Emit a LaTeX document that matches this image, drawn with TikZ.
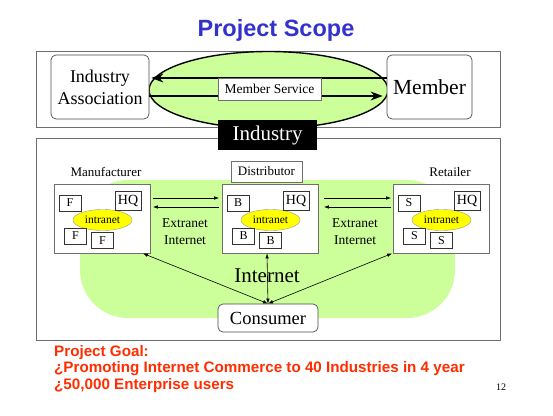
\documentclass[tikz,border=0pt]{standalone}
\usepackage{fontspec}
\setmainfont{Liberation Serif}
\newfontfamily\arialfont{Liberation Sans}
\usetikzlibrary{arrows.meta,shapes.geometric}

\definecolor{blobgreen}{RGB}{204,255,153}
\definecolor{netyellow}{RGB}{255,255,0}
\definecolor{titleblue}{RGB}{51,51,204}
\definecolor{goalred}{RGB}{255,45,0}
\definecolor{framegray}{RGB}{110,110,110}

\newcommand{\fs}[1]{\fontsize{#1}{1.2\dimexpr#1pt\relax}\selectfont}

\tikzset{
  frame/.style={draw=framegray,line width=0.8pt},
  roundbox/.style={draw=black!70,fill=white,rounded corners=5pt,line width=0.7pt},
  firmbox/.style={draw=framegray,fill=white,line width=0.8pt,minimum width=96pt,minimum height=69pt},
  unitbox/.style={draw=black!80,fill=white,line width=0.6pt,inner sep=0pt,
    minimum width=22pt,minimum height=16pt,font=\fs{12}},
  intranet/.style={ellipse,draw=black!40,fill=netyellow,line width=0.4pt,inner sep=0pt,
    minimum width=59pt,minimum height=21pt,font=\fs{11.5}},
  tag/.style={font=\fs{13},inner sep=0pt},
  bigarrow/.style={line width=1.6pt,-{Stealth[length=12pt,width=9pt]}},
  linkarrow/.style={line width=0.6pt,-{Latex[length=5pt,width=3.5pt]}},
  netarrow/.style={line width=0.6pt,{Latex[length=5pt,width=3.5pt]}-{Latex[length=5pt,width=3.5pt]}},
}

% one firm: box, intranet and its units
\newcommand{\firm}[3]{%
  \node[firmbox] (#1) at (#2,218.5) {};
  \node[intranet] (#1-net) at (#2,220) {intranet};
  \node[unitbox] (#1-a) at (#2-32.5,203) {#3};
  \node[unitbox,minimum width=26pt,minimum height=19pt,font=\fs{14}] (#1-hq) at (#2+25.5,200.5) {HQ};
  \node[unitbox] (#1-b) at (#2-27,236) {#3};
  \node[unitbox] (#1-c) at (#2,240.5) {#3};
}

\begin{document}
\begin{tikzpicture}[x=1pt,y=-1pt]
\useasboundingbox (0,0) rectangle (553,415);

\node[font=\arialfont\bfseries\fs{23.5},text=titleblue] (title) at (276,30) {Project Scope};

% upper part
\draw[frame] (36,51) rectangle (500,127);
\draw[frame] (36,138) rectangle (500,340);
\draw[black,line width=1.4pt,fill=blobgreen] (268.5,90) ellipse [x radius=119.5,y radius=38.5];
\node[roundbox,minimum width=98pt,minimum height=64pt,align=center,font=\fontsize{18}{22}\selectfont] (assoc) at (100,87)
  {Industry\\Association};
\node[roundbox,minimum width=85pt,minimum height=64pt,font=\fs{21.5}] (member) at (429.5,87) {Member};
\draw[bigarrow,shorten >=2pt] ([yshift=9pt]member.west) -- ([yshift=9pt]assoc.east);
\draw[bigarrow,shorten >=4pt] ([yshift=-9pt]assoc.east) -- ([yshift=-9pt]member.west);
\node[draw=framegray,fill=white,line width=0.6pt,minimum width=103pt,minimum height=22pt,inner sep=0pt,font=\fs{13.5}]
  (service) at (269.5,89) {Member Service};
\node[fill=black,text=white,minimum width=99pt,minimum height=30pt,inner sep=0pt,font=\fs{21}] (industry) at (267.5,135) {Industry};

% lower part
\fill[blobgreen,rounded corners=48pt] (80,180) rectangle (455,318);
\firm{man}{102.5}{F}
\firm{dist}{270.5}{B}
\firm{ret}{441.5}{S}
\node[tag] (man-label) at (106,172) {Manufacturer};
\node[draw=framegray,fill=white,line width=0.6pt,minimum width=71pt,minimum height=21pt,inner sep=0pt,font=\fs{13}]
  (dist-label) at (266.5,171.5) {Distributor};
\node[tag] (ret-label) at (450,172) {Retailer};

\draw[linkarrow,shorten <=2pt,shorten >=3pt] ([yshift=20.5pt]man.east) -- ([yshift=20.5pt]dist.west);
\draw[linkarrow,shorten <=3pt,shorten >=2pt] ([yshift=11.5pt]dist.west) -- ([yshift=11.5pt]man.east);
\draw[linkarrow,shorten <=5pt,shorten >=2pt] ([yshift=20.5pt]dist.east) -- ([yshift=20.5pt]ret.west);
\draw[linkarrow,shorten <=2pt,shorten >=5pt] ([yshift=11.5pt]ret.west) -- ([yshift=11.5pt]dist.east);
\node[tag,align=center,font=\fontsize{13.5}{17}\selectfont] (ext1) at (185,231.5) {Extranet\\Internet};
\node[tag,align=center,font=\fontsize{13.5}{17}\selectfont] (ext2) at (355,231.5) {Extranet\\Internet};

\node[font=\fs{21},inner sep=0pt] (internet) at (267,276) {Internet};
\node[roundbox,minimum width=100pt,minimum height=28pt,font=\fs{18.5}] (consumer) at (268,318) {Consumer};
\draw[netarrow] (consumer.north) -- ([xshift=-8pt]man.south east);
\draw[netarrow] (consumer.north) -- ([xshift=-3.5pt]dist.south);
\draw[netarrow] (consumer.north) -- ([xshift=-1pt]ret.south west);

% goal
\node[anchor=west,align=left,inner sep=0pt,text=goalred,font=\arialfont\bfseries\fontsize{15.2}{16.5}\selectfont] (goal) at (54,369)
  {Project Goal:\\¿Promoting Internet Commerce to 40 Industries in 4 year\\¿50,000 Enterprise users};
\node[font=\fs{10},inner sep=0pt] (page) at (501,387) {12};
\end{tikzpicture}
\end{document}
